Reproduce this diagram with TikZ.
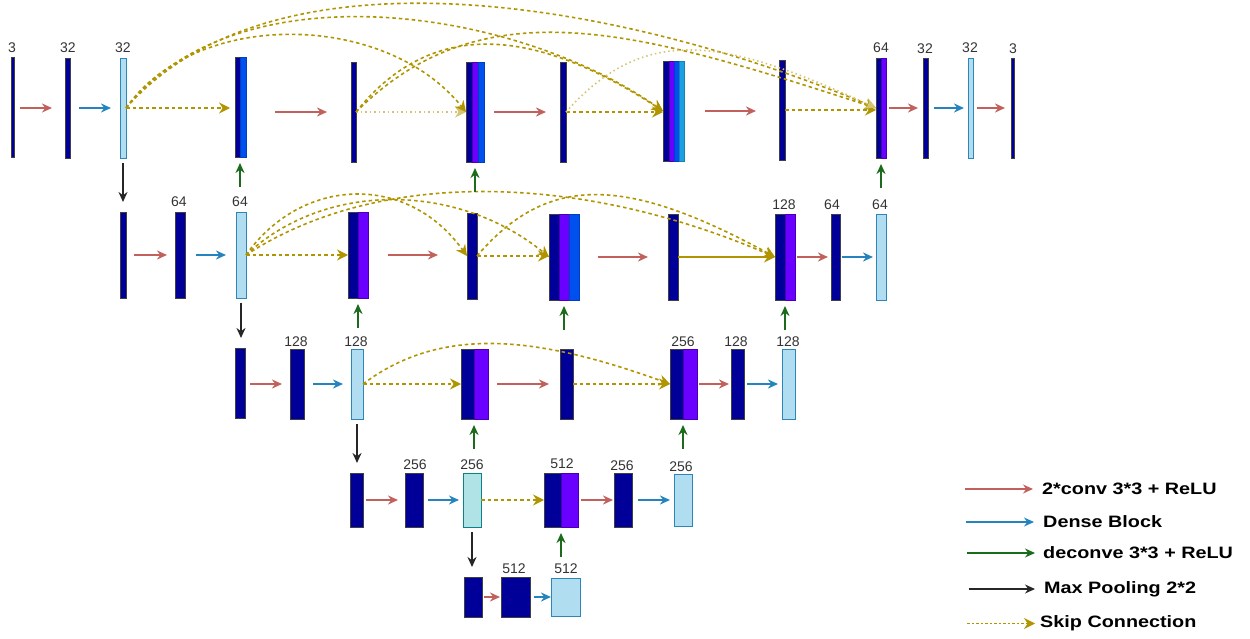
\documentclass[tikz,border=0pt]{standalone}
\usepackage{fontspec}
\usetikzlibrary{arrows.meta}
\newfontfamily\numfont{Liberation Sans}
\newfontfamily\legfont[FakeStretch=1.2]{Liberation Sans}

\definecolor{navyblk}{HTML}{000099}
\definecolor{lightblk}{HTML}{B1DDF0}
\definecolor{lightedge}{HTML}{2E86B8}
\definecolor{tealblk}{HTML}{B0E3E6}
\definecolor{tealedge}{HTML}{0E8088}
\definecolor{violetblk}{HTML}{6A00FF}
\definecolor{cobaltblk}{HTML}{0050EF}
\definecolor{skyblk}{HTML}{1BA1E2}
\definecolor{convcol}{HTML}{C2605C}
\definecolor{densecol}{HTML}{2584BE}
\definecolor{deconvcol}{HTML}{1C6B1C}
\definecolor{skipcol}{HTML}{B09500}
\definecolor{numcol}{HTML}{333333}

\begin{document}
\begin{tikzpicture}[x=1pt,y=-1pt,
    blk/.style={anchor=north west, inner sep=0pt, outer sep=0pt, line width=0.8pt},
    dk/.style={blk, draw=black!75, fill=navyblk},
    lt/.style={blk, draw=lightedge, fill=lightblk},
    tl/.style={blk, draw=tealedge, fill=tealblk},
    vi/.style={blk, draw=violetblk!70!black, fill=violetblk},
    co/.style={blk, draw=cobaltblk!80!black, fill=cobaltblk},
    sk/.style={blk, draw=skyblk!80!black, fill=skyblk},
    lbl/.style={font=\numfont\fontsize{14}{15}\selectfont, text=numcol, anchor=base, inner sep=0pt},
    conv/.style={draw=convcol, line width=2pt, -{Stealth[length=10pt,width=9pt]}},
    dense/.style={draw=densecol, line width=2pt, -{Stealth[length=10pt,width=9pt]}},
    deconv/.style={draw=deconvcol, line width=1.6pt, -{Stealth[length=10pt,width=9pt]}},
    pool/.style={draw=black!85, line width=1.6pt, -{Stealth[length=10pt,width=9pt]}},
    skip/.style={draw=skipcol, line width=1.6pt, dash pattern=on 3.5pt off 3pt, -{Stealth[length=11pt,width=11pt]}},
    skipdot/.style={skip, draw=skipcol!55, dash pattern=on 1.5pt off 3pt},
    skipline/.style={skip, dash pattern=},
    legtext/.style={font=\legfont\bfseries\fontsize{16.5}{18}\selectfont, anchor=west, inner sep=0pt}]

    \useasboundingbox (0,0) rectangle (1250,639); % same frame as the 1250x639 sketch

    % ---- level 0 (top row)
    \node[dk, minimum width=3, minimum height=100] (A0) at (11,57) {};
    \node[dk, minimum width=5, minimum height=100] (A1) at (65,58) {};
    \node[lt, minimum width=6, minimum height=100] (A2) at (120,58) {};
    \node[dk, minimum width=5, minimum height=100] (B1) at (235,57) {};
    \node[co, minimum width=6, minimum height=100] (B1b) at (240,57) {};
    \node[dk, minimum width=5, minimum height=100] (B2) at (351,62) {};
    \node[dk, minimum width=6, minimum height=100] (C1) at (466,62) {};
    \node[vi, minimum width=6, minimum height=100] (C1b) at (472,62) {};
    \node[co, minimum width=6, minimum height=100] (C1c) at (478,62) {};
    \node[dk, minimum width=6, minimum height=100] (C2) at (560,62) {};
    \node[dk, minimum width=6, minimum height=100] (C3) at (663,61) {};
    \node[vi, minimum width=5, minimum height=100] (C3b) at (669,61) {};
    \node[co, minimum width=5, minimum height=100] (C3c) at (674,61) {};
    \node[sk, minimum width=5, minimum height=100] (C3d) at (679,61) {};
    \node[dk, minimum width=6, minimum height=100] (D2) at (779,60) {};
    \node[dk, minimum width=5, minimum height=100] (D3) at (876,58) {};
    \node[vi, minimum width=5, minimum height=100] (D3b) at (881,58) {};
    \node[dk, minimum width=5, minimum height=100] (E1) at (923,58) {};
    \node[lt, minimum width=5, minimum height=100] (E2) at (968,58) {};
    \node[dk, minimum width=3, minimum height=100] (E3) at (1011,58) {};

    \draw[conv, shorten <=6pt, shorten >=13pt] (A0.east |- A1.west) -- (A1.west);
    \draw[dense, shorten <=9pt, shorten >=9pt] (A1.east) -- (A1.east -| A2.west);
    \draw[skip, shorten >=5pt] (A2.east) -- (A2.east -| B1.west);
    \draw[conv, shorten <=29pt, shorten >=24pt] (B1b.east |- B2.west) -- (B2.west);
    \draw[skipdot] (B2.east) -- (C1.west);
    \draw[conv, shorten <=10pt, shorten >=14pt] (C1c.east) -- (C2.west);
    \draw[skip] (C2.east) -- (C2.east -| C3.west);
    \draw[conv, shorten <=21pt, shorten >=23pt] (C3d.east) -- (C3d.east -| D2.west);
    \draw[skip] (D2.east) -- (D2.east -| D3.west);
    \draw[conv, shorten <=3pt, shorten >=5pt] (D3b.east) -- (D3b.east -| E1.west);
    \draw[dense, shorten <=6pt, shorten >=4pt] (E1.east) -- (E1.east -| E2.west);
    \draw[conv, shorten <=4pt, shorten >=6pt] (E2.east) -- (E2.east -| E3.west);

    % dense skip arcs of the top row
    \draw[skip] (A2.east) .. controls +(70,-100) and +(-80,-100) .. (C1.west);
    \draw[skip] (A2.east) .. controls +(110,-140) and +(-150,-105) .. (C3.west);
    \draw[skip] (A2.east) .. controls +(150,-170) and +(-250,-105) .. (D3.west);
    \draw[skip] (B2.east) .. controls +(80,-100) and +(-120,-78) .. (C3.west);
    \draw[skip] (B2.east) .. controls +(130,-130) and +(-230,-74) .. (D3.west);
    \draw[skipdot] (C2.east) .. controls +(80,-90) and +(-150,-69) .. (D3.west);

    % ---- level 1
    \node[dk, minimum width=6, minimum height=86] (F0) at (120,212) {};
    \node[dk, minimum width=10, minimum height=86] (F1) at (175,212) {};
    \node[lt, minimum width=10, minimum height=86] (F2) at (236,212) {};
    \node[dk, minimum width=10, minimum height=86] (G1) at (348,212) {};
    \node[vi, minimum width=10, minimum height=86] (G1b) at (358,212) {};
    \node[dk, minimum width=10, minimum height=86] (G2) at (467,213) {};
    \node[dk, minimum width=10, minimum height=86] (G3) at (549,214) {};
    \node[vi, minimum width=10, minimum height=86] (G3b) at (559,214) {};
    \node[co, minimum width=10, minimum height=86] (G3c) at (569,214) {};
    \node[dk, minimum width=10, minimum height=86] (H2) at (668,214) {};
    \node[dk, minimum width=10, minimum height=86] (H3) at (775,214) {};
    \node[vi, minimum width=10, minimum height=86] (H3b) at (785,214) {};
    \node[dk, minimum width=9, minimum height=86] (I1) at (831,214) {};
    \node[lt, minimum width=10, minimum height=86] (I2) at (876,214) {};

    \draw[conv, shorten <=8pt, shorten >=8pt] (F0.east) -- (F0.east -| F1.west);
    \draw[dense, shorten <=11pt, shorten >=10pt] (F1.east) -- (F1.east -| F2.west);
    \draw[skip] (F2.east) -- (F2.east -| G1.west);
    \draw[conv, shorten <=20pt, shorten >=29pt] (G1b.east) -- (G1b.east -| G2.west);
    \draw[skip] (G2.east) -- (G2.east -| G3.west);
    \draw[conv, shorten <=19pt, shorten >=20pt] (G3c.east) -- (G3c.east -| H2.west);
    \draw[skipline] (H2.east) -- (H2.east -| H3.west);
    \draw[conv, shorten <=2pt, shorten >=3pt] (H3b.east) -- (H3b.east -| I1.west);
    \draw[dense, shorten <=2pt, shorten >=3pt] (I1.east) -- (I1.east -| I2.west);

    \draw[skip] (F2.east) .. controls +(55,-78) and +(-60,-84) .. (G2.west);
    \draw[skip] (F2.east) .. controls +(80,-75) and +(-90,-74) .. (G3.west);
    \draw[skip] (F2.east) .. controls +(130,-85) and +(-200,-86) .. (H3.west);
    \draw[skip] (G2.east) .. controls +(70,-82) and +(-150,-82) .. (H3.west);

    % ---- level 2
    \node[dk, minimum width=10, minimum height=70] (J0) at (235,348) {};
    \node[dk, minimum width=14, minimum height=70] (J1) at (290,349) {};
    \node[lt, minimum width=12, minimum height=70] (J2) at (351,349) {};
    \node[dk, minimum width=13, minimum height=70] (K1) at (461,349) {};
    \node[vi, minimum width=14, minimum height=70] (K1b) at (474,349) {};
    \node[dk, minimum width=13, minimum height=70] (K2) at (560,349) {};
    \node[dk, minimum width=13, minimum height=70] (L3) at (670,349) {};
    \node[vi, minimum width=14, minimum height=70] (L3b) at (683,349) {};
    \node[dk, minimum width=13, minimum height=70] (L4) at (731,349) {};
    \node[lt, minimum width=13, minimum height=70] (L5) at (782,349) {};

    \draw[conv, shorten <=5pt, shorten >=8pt] (J0.east |- J1.west) -- (J1.west);
    \draw[dense, shorten <=9pt, shorten >=8pt] (J1.east) -- (J1.east -| J2.west);
    \draw[skip] (J2.east) -- (J2.east -| K1.west);
    \draw[conv, shorten <=9pt, shorten >=11pt] (K1b.east) -- (K1b.east -| K2.west);
    \draw[skip] (K2.east) -- (K2.east -| L3.west);
    \draw[conv, shorten <=2pt, shorten >=2pt] (L3b.east) -- (L3b.east -| L4.west);
    \draw[dense, shorten <=3pt, shorten >=4pt] (L4.east) -- (L4.east -| L5.west);
    \draw[skip] (J2.east) .. controls +(80,-60) and +(-130,-47) .. (L3.west);

    % ---- level 3
    \node[dk, minimum width=13, minimum height=54] (M0) at (350,473) {};
    \node[dk, minimum width=18, minimum height=54] (M1) at (405,473) {};
    \node[tl, minimum width=18, minimum height=54] (M2) at (463,473) {};
    \node[dk, minimum width=17, minimum height=54] (N1) at (544,473) {};
    \node[vi, minimum width=17, minimum height=54] (N1b) at (561,473) {};
    \node[dk, minimum width=18, minimum height=54] (O1) at (614,473) {};
    \node[lt, minimum width=18, minimum height=52] (O2) at (674,474) {};

    \draw[conv, shorten <=3pt, shorten >=7pt] (M0.east) -- (M0.east -| M1.west);
    \draw[dense, shorten <=5pt, shorten >=4pt] (M1.east) -- (M1.east -| M2.west);
    \draw[skip] (M2.east) -- (M2.east -| N1.west);
    \draw[conv, shorten <=3pt, shorten >=1pt] (N1b.east) -- (N1b.east -| O1.west);
    \draw[dense, shorten <=6pt, shorten >=4pt] (O1.east) -- (O1.east -| O2.west);

    % ---- level 4 (bottom)
    \node[dk, minimum width=18, minimum height=40] (P0) at (464,577) {};
    \node[dk, minimum width=29, minimum height=40] (P1) at (501,577) {};
    \node[lt, minimum width=29, minimum height=38] (P2) at (551,578) {};

    \draw[conv, shorten <=2pt, shorten >=1pt] (P0.east) -- (P0.east -| P1.west);
    \draw[dense, shorten <=4pt] (P1.east) -- (P1.east -| P2.west);

    % max pooling, one level down
    \foreach \s/\t in {A2/F0, F2/J0, J2/M0, M2/P0}
        \draw[pool, shorten <=5pt, shorten >=10pt] (\s.south) -- (\s.south |- \t.north);

    % deconvolution, coming up from below
    \foreach \n/\a in {B1/south east, C1b/south, D3/south east, G1/south east, G3b/south,
                       H3/south east, K1/south east, L3/south east, N1/south east}{
        \coordinate (u\n) at ([yshift=-30pt]\n.\a);
        \draw[deconv, shorten >=6pt] (u\n) -- (\n.\a);
    }

    % channel counts
    \foreach \x/\y/\t [count=\i] in {12/53/3, 68/53/32, 123/53/32, 881/53/64, 925/54/32, 970/53/32, 1013/54/3,
                                  179/207/64, 240/207/64, 784/210/128, 832/210/64, 880/210/64,
                                  296/346/128, 356/346/128, 683/346/256, 736/346/128, 788/346/128,
                                  415/469/256, 472/469/256, 562/468/512, 622/470/256, 681/471/256,
                                  514/573/512, 566/573/512}
        \node[lbl] (ch\i) at (\x,\y) {\t};

    % legend
    \coordinate (lg1) at (965,489);
    \coordinate (lg2) at (966,522);
    \coordinate (lg3) at (967,553);
    \coordinate (lg4) at (969,589);
    \coordinate (lg5) at (967,623.5);
    \node[legtext] (lt1) at (1042,489) {2*conv 3*3 + ReLU};
    \node[legtext] (lt2) at (1043,522) {Dense Block};
    \node[legtext] (lt3) at (1043,553) {deconve 3*3 + ReLU};
    \node[legtext] (lt4) at (1044,589) {Max Pooling 2*2};
    \node[legtext] (lt5) at (1040,623) {Skip Connection};
    \draw[conv, line width=1.2pt, shorten >=9pt] (lg1) -- (lg1 -| lt1.west);
    \draw[dense, line width=1.2pt, shorten >=9pt] (lg2) -- (lg2 -| lt2.west);
    \draw[deconv, line width=1.2pt, shorten >=8pt] (lg3) -- (lg3 -| lt3.west);
    \draw[pool, line width=1.2pt, shorten >=9pt] (lg4) -- (lg4 -| lt4.west);
    \draw[skip, line width=1.1pt, dash pattern=on 2.5pt off 2pt, shorten >=5pt] (lg5) -- (lg5 -| lt5.west);
\end{tikzpicture}
\end{document}
